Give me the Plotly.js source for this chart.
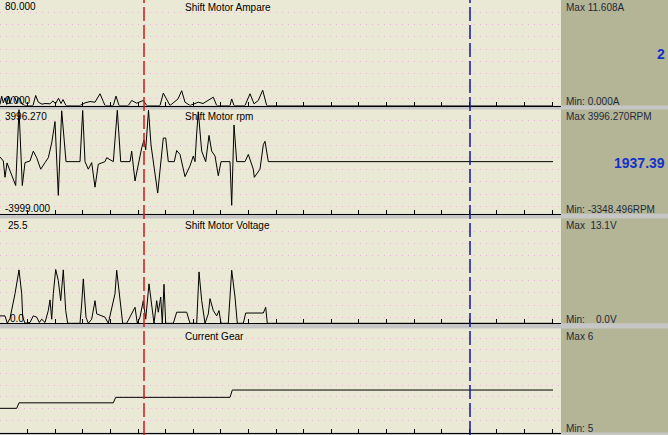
<!DOCTYPE html>
<html>
<head>
<meta charset="utf-8">
<script src="https://cdn.plot.ly/plotly-3.0.1.min.js"></script>
<style>html,body{margin:0;padding:0;background:#c6c6c6;}#chart{width:668px;height:435px;}</style>
</head>
<body>
<div id="chart"></div>
<script>
// ---- data (time index vs. value) ----
var ampT = [0,1.7,3.3,5,6.7,8.3,10,11.7,13.3,15,16.7,18.3,20,21.7,25,33,35.7,38.3,42,45,50,53,55.5,58.5,61,63,66,80,85,90,95,100,103.3,105,113.3,116,119,128.3,131.7,136.7,143.3,146.7,160,163.3,170,178,181.7,185,190,198.3,203,208,213.3,216.7,230,231.7,234,245,250,254,258.3,262.7,266.7,553];
var ampV = [0.8,7.1,2,5.8,0.8,7.1,1.3,5.8,7.1,5.8,2,5.8,5.3,1.3,0,0,7.6,2.5,1.0,1.5,1.3,3.5,1.3,5.5,1.5,4.5,0,0,2,3,2.5,8.9,3,0,0,7.1,0,0,3.8,1.8,3.8,0,0,9.4,0,5,11.2,2.5,0,2.5,1.5,3.8,6.3,0,0,5,0,0,8.9,1.3,3.8,11.608,0,0];

var rpmT = [0,3.3,5,7,15.7,19,22.3,25,30,33.3,36.7,40.7,45,48.3,51.7,53.3,55,58.3,61.7,66,80,82.7,85,88.3,91.7,95,98.3,105,106.7,113.3,117.3,120.7,130,131.7,135,141.7,144,145.7,148.5,151,157.7,163.3,165.7,168.3,174.3,176.7,180,185,190,193.3,195,196.7,198.3,201.7,205.7,209,211.7,215,218.3,221,230,231.7,234,236.7,245,248.3,253.3,254.3,260,263.3,265,268.3,553];
var rpmV = [354,53,-1200,-100,-1832,3996.27,-1832,-75,53,807,302,-581,-75,302,1433,2187,3069,-2586,3900,0,0,3920,0,-581,-75,-1960,-200,0,300,0,3940,0,0,800,-1485,1055,1660,905,3950,1280,-2410,1810,1810,0,0,850,550,-1150,-325,430,0,2190,3820,805,0,2010,805,430,-1080,0,0,-3348.496,2810,0,0,550,-580,-1205,-580,1300,1560,0,0];

var voltT = [0,5,7.3,10,15,19,21.7,22.7,25,30,33.3,36.7,39.3,41.7,45,48.3,50,51.7,53.3,55.7,58.3,60.7,63.3,65.7,67.7,80,81.7,83.3,86,88.3,91.7,95,96.7,100,105,108.3,115,116.7,120,122.7,126.7,131.7,135,137.3,140,143.3,145.7,149,151.7,154,156.7,158.3,160.7,162.3,164,165.7,173.3,176.7,186.7,190,196.7,199,201.7,205,208.3,210,213.3,216.7,219,221,228.3,231.7,235,237.3,243.3,245.7,263.3,265.7,267.3,553];
var voltV = [1.8,1.8,0,1.2,7.2,13.0,7.2,1.5,0,0.2,1.8,1.5,0.2,1.0,0.2,3.1,5.7,1.0,7.2,13.1,10.4,5.5,13.0,3.1,0,0,4.7,10.8,1.5,0,1.0,5.5,2.3,1.9,1.5,0,7.2,12.9,6.4,0,0,2.3,3.9,0,1.5,5.5,1.0,9.6,4.7,0,5.5,2.7,6.4,0,9.5,0,0,2.7,2.7,0,0,12.5,5.5,0,2.3,6.0,3.1,1.8,3.1,0,0,12.9,6.4,0,0,2.5,2.5,3.9,0,0];

var gearT = [0,16.7,19,113.3,115.7,230,232.3,553];
var gearV = [5,5,5.3,5.3,5.6,5.6,6,6];

var cursorT = [144, 470];

var panelTitles = ["Shift Motor Ampare","Shift Motor rpm","Shift Motor Voltage","Current Gear"];
var scaleTop = ["80.000","3996.270","25.5",""];
var scaleBot = ["0.000","-3999.000","0.0",""];
var maxLabels = ["Max 11.608A","Max 3996.270RPM","Max\u00a0\u00a013.1V","Max 6"];
var minLabels = ["Min: 0.000A","Min: -3348.496RPM","Min:\u00a0\u00a0\u00a0\u00a00.0V","Min: 5"];
var cursorValues = ["2","1937.39","",""];

// ---- layout ----
var W = 668, H = 435;
function px(x){return x/W;}
function py(y){return 1-y/H;}
var panels = [[0,105.5],[109.5,213.8],[218.5,323.3],[328.5,432.5]];
var plotRight = 561;
var xRange = [0,561];
var yRanges = [[0,80],[-3999,3996.27],[0,25.5],[3.68,9.36]];
var gridT0 = [14.5,330,4.45,6.27];
var gridDt = [9.4,943,3.0,0.64];

var FONT = "Liberation Sans, Arial, sans-serif";
var series = [[ampT,ampV],[rpmT,rpmV],[voltT,voltV],[gearT,gearV]];
var traces = [];
var layout = {
  width: W, height: H,
  margin: {l:0,r:0,t:0,b:0,pad:0},
  paper_bgcolor: "#c6c6c6",
  plot_bgcolor: "#e9e9d5",
  showlegend: false,
  font: {family: FONT, size: 10, color: "#000"},
  shapes: [], annotations: []
};
function ann(t, x, y, o){
  var a = {text: t, x: px(x), y: py(y), xref: "paper", yref: "paper", showarrow: false,
    xanchor: "left", yanchor: "middle", borderpad: 0, font: {family: FONT, size: 10, color: "#000"}};
  if (o) for (var k in o) a[k] = o[k];
  layout.annotations.push(a);
}
for (var i=0;i<4;i++){
  var n = i===0 ? "" : String(i+1);
  traces.push({x: series[i][0], y: series[i][1], xaxis: "x"+n, yaxis: "y"+n,
    type: "scatter", mode: "lines", line: {color: "#000", width: 1}, hoverinfo: "skip"});
  var dom = [py(panels[i][1]), py(panels[i][0])];
  layout["xaxis"+n] = {domain: [0, px(plotRight)], range: xRange, anchor: "y"+n,
    showline: true, linecolor: "#000", linewidth: 1, ticks: "inside", ticklen: 4,
    tickcolor: "#000", tickwidth: 1, tick0: 0, dtick: 27.6, showticklabels: false,
    showgrid: false, zeroline: false, fixedrange: true};
  layout["yaxis"+n] = {domain: dom, range: yRanges[i], anchor: "x"+n,
    showline: false, ticks: "", showticklabels: false, zeroline: false,
    showgrid: true, gridcolor: "#f2aede", gridwidth: 1, griddash: "1px,5px",
    tick0: gridT0[i], dtick: gridDt[i], fixedrange: true};
  // sidebar
  layout.shapes.push({type: "rect", xref: "paper", yref: "paper", x0: px(plotRight), x1: 1,
    y0: dom[0], y1: dom[1], fillcolor: "#b4b496", line: {width: 0}, layer: "below"});
  var pTop = panels[i][0], pBot = panels[i][1];
  ann(panelTitles[i], 184, pTop+7.5);
  if (scaleTop[i]) ann(scaleTop[i], i===2 ? 7 : 4, pTop+7);
  if (scaleBot[i]) ann(scaleBot[i], i===2 ? 9 : 4, pBot-5);
  ann(maxLabels[i], 565, pTop+7.5, {font: {family: FONT, size: 10, color: "#1e2a3c"}});
  ann(minLabels[i], 565, pBot-4, {font: {family: FONT, size: 10, color: "#1e2a3c"}});
  if (cursorValues[i]) {
    layout.annotations.push({text: "<b>"+cursorValues[i]+"</b>", x: 1, y: py((pTop+pBot)/2+1),
      xref: "paper", yref: "paper", showarrow: false, xanchor: "right", yanchor: "middle",
      borderpad: 0, xshift: -2, font: {family: FONT, size: 14, color: "#1432c8"}});
  }
}
var cursorColors = ["#d01818","#14149a"];
for (var c=0;c<cursorT.length;c++){
  layout.shapes.push({type: "line", xref: "x", yref: "paper", x0: cursorT[c], x1: cursorT[c],
    y0: 0, y1: 1, line: {color: cursorColors[c], width: 1.5, dash: "14px,4px"}, layer: "above"});
}
Plotly.newPlot("chart", traces, layout, {staticPlot: true, displayModeBar: false});
</script>
</body>
</html>
